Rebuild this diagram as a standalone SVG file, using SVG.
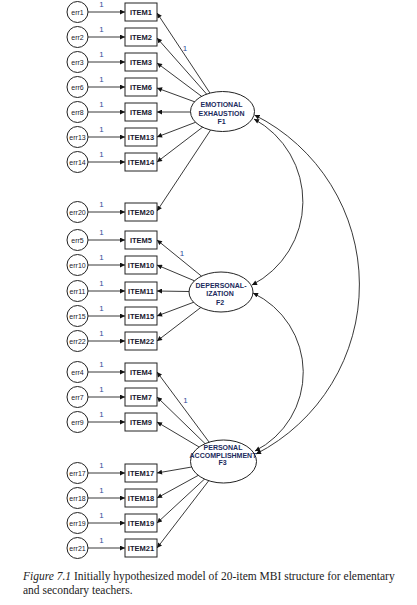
<svg xmlns="http://www.w3.org/2000/svg" width="417" height="605" viewBox="0 0 417 605">
<style>
.c{fill:#fff;stroke:#222;stroke-width:1}
.b{fill:#fff;stroke:#222;stroke-width:1}
.e{fill:#fff;stroke:#222;stroke-width:1}
.l{stroke:#222;stroke-width:0.9;fill:none}
.et{font-family:"Liberation Sans",Arial,sans-serif;font-size:7px;fill:#1a1a2a;text-anchor:middle}
.it{font-family:"Liberation Sans",Arial,sans-serif;font-size:7.5px;font-weight:bold;fill:#1a1a2e;text-anchor:middle}
.ft{font-family:"Liberation Sans",Arial,sans-serif;font-size:7px;font-weight:bold;fill:#1b2a5c;text-anchor:middle}
.one{font-family:"Liberation Sans",Arial,sans-serif;font-size:8px;fill:#2f4a9a;text-anchor:middle}
.cap{font-family:"Liberation Serif","Times New Roman",serif;font-size:11.5px;fill:#222}
</style>
<defs>
<marker id="ah" viewBox="0 0 10 10" refX="10" refY="5" markerWidth="6" markerHeight="5" markerUnits="userSpaceOnUse" orient="auto-start-reverse"><path d="M0,0 L10,5 L0,10 z" fill="#111"/></marker>
</defs>
<g id="connectors" class="l" marker-end="url(#ah)">
<path d="M88,12 H125"/><path d="M88,37 H125"/><path d="M88,62 H125"/><path d="M88,87 H125"/><path d="M88,112 H125"/><path d="M88,137 H125"/><path d="M88,162 H125"/><path d="M88,212 H125"/>
<path d="M88,240 H125"/><path d="M88,265 H125"/><path d="M88,291 H125"/><path d="M88,316 H125"/><path d="M88,341 H125"/>
<path d="M88,372 H125"/><path d="M88,397 H125"/><path d="M88,422 H125"/><path d="M88,473 H125"/><path d="M88,498 H125"/><path d="M88,523 H125"/><path d="M88,548 H125"/>
<path d="M222.5,112 L157,13"/><path d="M222.5,112 L157,38"/><path d="M222.5,112 L157,63"/><path d="M222.5,112 L157,88"/><path d="M222.5,112 L157,112"/><path d="M222.5,112 L157,137"/><path d="M222.5,112 L157,162"/><path d="M222.5,112 L157,211"/>
<path d="M221,292 L157,240"/><path d="M221,292 L157,265"/><path d="M221,292 L157,291"/><path d="M221,292 L157,316"/><path d="M221,292 L157,341"/>
<path d="M223.5,461.5 L157,372"/><path d="M223.5,461.5 L157,397"/><path d="M223.5,461.5 L157,422"/><path d="M223.5,461.5 L157,473"/><path d="M223.5,461.5 L157,498"/><path d="M223.5,461.5 L157,523"/><path d="M223.5,461.5 L157,548"/>
<path d="M254,119 A94 94 0 0 1 252,285" marker-start="url(#ah)"/>
<path d="M253,293 A88 88 0 0 1 255,451" marker-start="url(#ah)"/>
<path d="M254.5,115 A190 190 0 0 1 256,454" marker-start="url(#ah)"/>
</g>
<g id="weights" class="one">
<text x="101.5" y="7">1</text><text x="101.5" y="32">1</text><text x="101.5" y="57">1</text><text x="101.5" y="82">1</text><text x="101.5" y="107">1</text><text x="101.5" y="132">1</text><text x="101.5" y="157">1</text><text x="101.5" y="207">1</text>
<text x="101.5" y="235">1</text><text x="101.5" y="260">1</text><text x="101.5" y="286">1</text><text x="101.5" y="311">1</text><text x="101.5" y="336">1</text>
<text x="101.5" y="367">1</text><text x="101.5" y="392">1</text><text x="101.5" y="417">1</text><text x="101.5" y="468">1</text><text x="101.5" y="493">1</text><text x="101.5" y="518">1</text><text x="101.5" y="543">1</text>
<text x="185" y="50.5">1</text><text x="182" y="255.5">1</text><text x="185.5" y="402.5">1</text>
</g>
<g id="err1"><circle class="c" cx="77.5" cy="12" r="10.5"/><text class="et" x="77.5" y="14.5">err1</text></g>
<g id="err2"><circle class="c" cx="77.5" cy="37" r="10.5"/><text class="et" x="77.5" y="39.5">err2</text></g>
<g id="err3"><circle class="c" cx="77.5" cy="62" r="10.5"/><text class="et" x="77.5" y="64.5">err3</text></g>
<g id="err6"><circle class="c" cx="77.5" cy="87" r="10.5"/><text class="et" x="77.5" y="89.5">err6</text></g>
<g id="err8"><circle class="c" cx="77.5" cy="112" r="10.5"/><text class="et" x="77.5" y="114.5">err8</text></g>
<g id="err13"><circle class="c" cx="77.5" cy="137" r="10.5"/><text class="et" x="77.5" y="139.5">err13</text></g>
<g id="err14"><circle class="c" cx="77.5" cy="162" r="10.5"/><text class="et" x="77.5" y="164.5">err14</text></g>
<g id="err20"><circle class="c" cx="77.5" cy="212" r="10.5"/><text class="et" x="77.5" y="214.5">err20</text></g>
<g id="err5"><circle class="c" cx="77.5" cy="240" r="10.5"/><text class="et" x="77.5" y="242.5">err5</text></g>
<g id="err10"><circle class="c" cx="77.5" cy="265" r="10.5"/><text class="et" x="77.5" y="267.5">err10</text></g>
<g id="err11"><circle class="c" cx="77.5" cy="291" r="10.5"/><text class="et" x="77.5" y="293.5">err11</text></g>
<g id="err15"><circle class="c" cx="77.5" cy="316" r="10.5"/><text class="et" x="77.5" y="318.5">err15</text></g>
<g id="err22"><circle class="c" cx="77.5" cy="341" r="10.5"/><text class="et" x="77.5" y="343.5">err22</text></g>
<g id="err4"><circle class="c" cx="77.5" cy="372" r="10.5"/><text class="et" x="77.5" y="374.5">err4</text></g>
<g id="err7"><circle class="c" cx="77.5" cy="397" r="10.5"/><text class="et" x="77.5" y="399.5">err7</text></g>
<g id="err9"><circle class="c" cx="77.5" cy="422" r="10.5"/><text class="et" x="77.5" y="424.5">err9</text></g>
<g id="err17"><circle class="c" cx="77.5" cy="473" r="10.5"/><text class="et" x="77.5" y="475.5">err17</text></g>
<g id="err18"><circle class="c" cx="77.5" cy="498" r="10.5"/><text class="et" x="77.5" y="500.5">err18</text></g>
<g id="err19"><circle class="c" cx="77.5" cy="523" r="10.5"/><text class="et" x="77.5" y="525.5">err19</text></g>
<g id="err21"><circle class="c" cx="77.5" cy="548" r="10.5"/><text class="et" x="77.5" y="550.5">err21</text></g>
<g id="ITEM1"><rect class="b" x="125" y="3" width="32" height="18"/><text class="it" x="141" y="14.7">ITEM1</text></g>
<g id="ITEM2"><rect class="b" x="125" y="28" width="32" height="18"/><text class="it" x="141" y="39.7">ITEM2</text></g>
<g id="ITEM3"><rect class="b" x="125" y="53" width="32" height="18"/><text class="it" x="141" y="64.7">ITEM3</text></g>
<g id="ITEM6"><rect class="b" x="125" y="78" width="32" height="18"/><text class="it" x="141" y="89.7">ITEM6</text></g>
<g id="ITEM8"><rect class="b" x="125" y="103" width="32" height="18"/><text class="it" x="141" y="114.7">ITEM8</text></g>
<g id="ITEM13"><rect class="b" x="125" y="128" width="32" height="18"/><text class="it" x="141" y="139.7">ITEM13</text></g>
<g id="ITEM14"><rect class="b" x="125" y="153" width="32" height="18"/><text class="it" x="141" y="164.7">ITEM14</text></g>
<g id="ITEM20"><rect class="b" x="125" y="203" width="32" height="18"/><text class="it" x="141" y="214.7">ITEM20</text></g>
<g id="ITEM5"><rect class="b" x="125" y="231" width="32" height="18"/><text class="it" x="141" y="242.7">ITEM5</text></g>
<g id="ITEM10"><rect class="b" x="125" y="256" width="32" height="18"/><text class="it" x="141" y="267.7">ITEM10</text></g>
<g id="ITEM11"><rect class="b" x="125" y="282" width="32" height="18"/><text class="it" x="141" y="293.7">ITEM11</text></g>
<g id="ITEM15"><rect class="b" x="125" y="307" width="32" height="18"/><text class="it" x="141" y="318.7">ITEM15</text></g>
<g id="ITEM22"><rect class="b" x="125" y="332" width="32" height="18"/><text class="it" x="141" y="343.7">ITEM22</text></g>
<g id="ITEM4"><rect class="b" x="125" y="363" width="32" height="18"/><text class="it" x="141" y="374.7">ITEM4</text></g>
<g id="ITEM7"><rect class="b" x="125" y="388" width="32" height="18"/><text class="it" x="141" y="399.7">ITEM7</text></g>
<g id="ITEM9"><rect class="b" x="125" y="413" width="32" height="18"/><text class="it" x="141" y="424.7">ITEM9</text></g>
<g id="ITEM17"><rect class="b" x="125" y="464" width="32" height="18"/><text class="it" x="141" y="475.7">ITEM17</text></g>
<g id="ITEM18"><rect class="b" x="125" y="489" width="32" height="18"/><text class="it" x="141" y="500.7">ITEM18</text></g>
<g id="ITEM19"><rect class="b" x="125" y="514" width="32" height="18"/><text class="it" x="141" y="525.7">ITEM19</text></g>
<g id="ITEM21"><rect class="b" x="125" y="539" width="32" height="18"/><text class="it" x="141" y="550.7">ITEM21</text></g>
<g id="F1"><ellipse class="e" cx="222.5" cy="111.5" rx="32" ry="20"/><text class="ft" x="221.5" y="106.5">EMOTIONAL</text><text class="ft" x="221.5" y="115.5">EXHAUSTION</text><text class="ft" x="221.5" y="123.8">F1</text></g>
<g id="F2"><ellipse class="e" cx="221" cy="292" rx="32" ry="20"/><text class="ft" x="221" y="287.5">DEPERSONAL-</text><text class="ft" x="220" y="295.5">IZATION</text><text class="ft" x="220" y="304.5">F2</text></g>
<g id="F3"><ellipse class="e" cx="223.5" cy="461.5" rx="33" ry="21.5"/><text class="ft" x="223" y="449.8">PERSONAL</text><text class="ft" x="223" y="457.5" font-size="6.5">ACCOMPLISHMENT</text><text class="ft" x="222.5" y="465.2">F3</text></g>
<g id="caption" class="cap">
<text x="23" y="580"><tspan font-style="italic">Figure 7.1</tspan> Initially hypothesized model of 20-item MBI structure for elementary</text>
<text x="23" y="593.5">and secondary teachers.</text>
</g>
</svg>
